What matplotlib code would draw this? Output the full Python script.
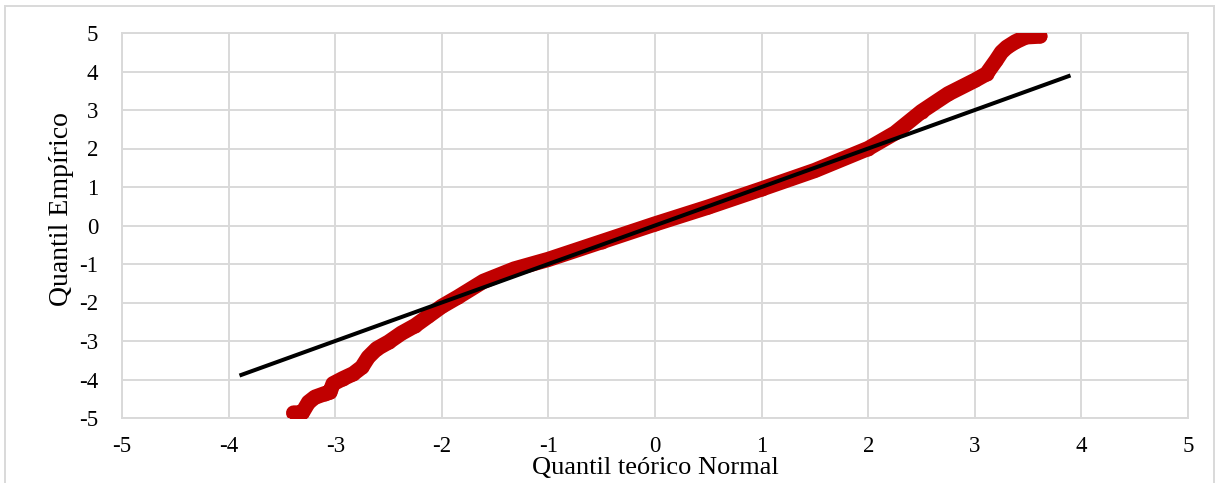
import matplotlib
matplotlib.use("Agg")
import matplotlib.pyplot as plt
from matplotlib.patches import Rectangle

theoretical = [-3.39, -3.31, -3.25, -3.19, -3.10, -3.05, -3.02, -2.93, -2.83,
               -2.75, -2.69, -2.61, -2.50, -2.38, -2.25, -2.13, -2.00, -1.85,
               -1.61, -1.32, -1.00, -0.50, 0.00, 0.50, 1.00, 1.50, 2.00, 2.25,
               2.50, 2.75, 3.00, 3.11, 3.20, 3.25, 3.30, 3.38, 3.48, 3.61]
empirical = [-4.87, -4.87, -4.59, -4.46, -4.37, -4.33, -4.11, -3.98, -3.85,
             -3.68, -3.42, -3.20, -3.03, -2.80, -2.60, -2.36, -2.10, -1.86,
             -1.45, -1.13, -0.88, -0.42, 0.04, 0.48, 0.95, 1.43, 2.00, 2.40,
             2.96, 3.42, 3.77, 3.94, 4.29, 4.50, 4.63, 4.77, 4.90, 4.92]

# Reference line (y = x)
ref_x = [-3.88, 3.88]
ref_y = [-3.88, 3.88]

ticks = [-5, -4, -3, -2, -1, 0, 1, 2, 3, 4, 5]
xlabel = "Quantil teórico Normal"
ylabel = "Quantil Empírico"

plt.rcParams['font.family'] = ['Liberation Serif', 'DejaVu Serif']

fig = plt.figure(figsize=(12.16, 4.83), dpi=100)
ax = fig.add_axes([122/1216, 1-418/483, (1188-122)/1216, (418-33)/483])

grid_c = '#D9D9D9'
red = '#C00000'

ax.plot(theoretical, empirical, color=red, lw=11, solid_capstyle='round',
        solid_joinstyle='round', zorder=3)
ax.plot(theoretical, empirical, 'o', color=red, ms=10, mec='none', zorder=3)
ax.plot(ref_x, ref_y, color='black', lw=2.9, zorder=4)

ax.set_xlim(-5, 5)
ax.set_ylim(-5, 5)
ax.set_xticks(ticks)
ax.set_yticks(ticks)
ax.set_xticklabels([str(t) for t in ticks])
ax.set_yticklabels([str(t) for t in ticks])
ax.tick_params(length=0, labelsize=16.5, colors='black')
ax.tick_params(axis='x', pad=13)
ax.tick_params(axis='y', pad=17)
ax.grid(True, color=grid_c, lw=1.4, zorder=0)
ax.set_axisbelow(True)
for s in ax.spines.values():
    s.set_color(grid_c)
    s.set_linewidth(1.4)

ax.set_xlabel(xlabel, fontsize=19)
ax.set_ylabel(ylabel, fontsize=20)
ax.xaxis.set_label_coords(0.5, (418 - 468) / 385)
ax.xaxis.label.set_va('center')
ax.yaxis.set_label_coords((61 - 122) / 1066, (418 - 209) / 385)
ax.yaxis.label.set_va('center')

fig.patches.append(Rectangle((5/1216, -0.05), (1214-5)/1216, 1-6/483+0.05,
                             transform=fig.transFigure, fill=False,
                             edgecolor=grid_c, lw=1.4, zorder=0))

fig.savefig("out.png", dpi=100)
